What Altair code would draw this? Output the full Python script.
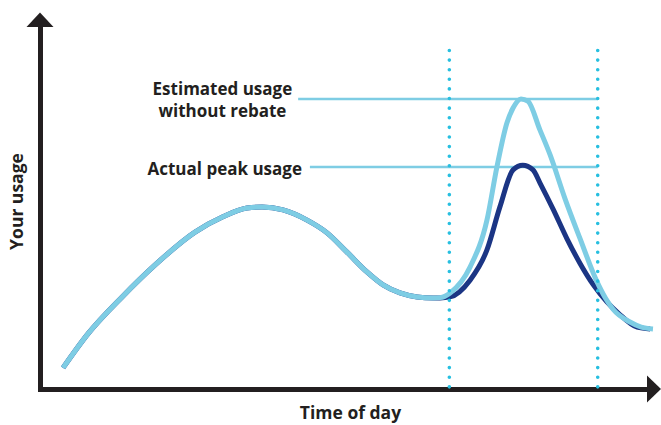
import altair as alt
import pandas as pd

# ---- data (time of day in hours, usage in arbitrary units 0-100) ----
shared_t = [0.90, 1.88, 3.21, 4.50, 6.06, 7.15, 8.09, 8.68, 9.50, 10.44, 11.22,
            12.00, 12.79, 13.41, 14.07, 14.74, 15.36]
shared_u = [5.8, 15.2, 25.3, 34.1, 43.1, 47.3, 49.7, 50.0, 49.2, 46.4, 42.9,
            37.6, 32.1, 28.6, 26.4, 25.3, 25.0]

est_t = [15.64, 16.03, 16.81, 17.47, 17.86, 18.25, 18.49, 18.80, 19.07, 19.54,
         19.94, 20.52, 21.11, 21.77, 22.10, 22.40, 23.06, 23.50, 23.96]
est_u = [25.1, 26.4, 33.5, 46.4, 61.0, 73.1, 77.2, 79.7, 79.1, 71.2,
         64.3, 52.3, 41.3, 29.5, 25.0, 21.9, 18.4, 17.0, 16.5]

act_t = [15.64, 16.03, 16.81, 17.47, 17.98, 18.49, 18.87, 19.27, 19.55, 20.07,
         20.59, 21.11, 21.63, 22.15, 22.61, 23.34, 23.85]
act_u = [25.0, 25.3, 29.9, 38.2, 50.1, 60.2, 61.5, 60.2, 56.5, 49.2,
         41.4, 34.5, 28.6, 24.0, 20.8, 17.0, 16.5]

window_t = [16.0, 21.8]          # rebate period boundaries
window_top = 93.0

ref_labels = ["Estimated usage", "Actual peak usage"]
ref_level = [79.7, 61.0]
ref_start = [10.09, 10.55]

label_lines = ["Estimated usage", "without rebate", "Actual peak usage"]
label_t = [7.13, 7.13, 10.24]
label_u = [80.8, 74.6, 58.8]
label_align = ["center", "center", "right"]

# ---- colours ----
INK = "#231f20"
LIGHT = "#7ecde4"
DARK = "#1b3584"
CYAN = "#27bfe0"
FONT = "Open Sans"

est_df = pd.DataFrame({"x": shared_t + est_t, "y": shared_u + est_u})
act_df = pd.DataFrame({"x": shared_t + act_t, "y": shared_u + act_u})
win_df = pd.DataFrame({"x": window_t, "y": [window_top] * 2, "y2": [0, 0]})
ref_df = pd.DataFrame({"x": ref_start, "x2": [window_t[1]] * 2, "y": ref_level, "name": ref_labels})
lab_df = pd.DataFrame({"x": label_t, "y": label_u, "text": label_lines, "align": label_align})
yarrow_df = pd.DataFrame({"x": [0], "y": [100]})
xarrow_df = pd.DataFrame({"x": [24], "y": [0]})

xs = alt.Scale(domain=[0, 24], nice=False, zero=False)
ys = alt.Scale(domain=[0, 100], nice=False, zero=False)

x_axis = alt.Axis(title="Time of day", domain=True, domainColor=INK, domainWidth=5,
                  domainCap="square", ticks=False, labels=False, grid=False,
                  titleFont=FONT, titleFontWeight="bold", titleFontSize=17.5,
                  titleColor=INK, titleX=310, titleY=24, titleBaseline="middle",
                  titleAlign="center")
y_axis = alt.Axis(title="Your usage", domain=True, domainColor=INK, domainWidth=5,
                  domainCap="square", ticks=False, labels=False, grid=False,
                  titleFont=FONT, titleFontWeight="bold", titleFontSize=17.5,
                  titleColor=INK, titleX=-23, titleY=176, titleBaseline="middle",
                  titleAlign="center", titleAngle=270)

X = alt.X("x:Q", scale=xs, axis=x_axis)
Y = alt.Y("y:Q", scale=ys, axis=y_axis)

refs = alt.Chart(ref_df).mark_rule(color=LIGHT, strokeWidth=2.5).encode(
    x=X, x2="x2:Q", y=Y)

actual = alt.Chart(act_df).mark_line(color=DARK, strokeWidth=5, interpolate="monotone").encode(
    x=X, y=Y, order="x:Q")
estimated = alt.Chart(est_df).mark_line(color=LIGHT, strokeWidth=5, interpolate="monotone").encode(
    x=X, y=Y, order="x:Q")

dots = alt.Chart(win_df).mark_rule(color=CYAN, strokeWidth=3.6, strokeDash=[0.01, 9.6],
                                   strokeCap="round").encode(x=X, y=Y, y2="y2:Q")

labels_c = alt.Chart(lab_df[lab_df["align"] == "center"]).mark_text(
    font=FONT, fontWeight="bold", fontSize=17, color=INK, align="center",
    baseline="alphabetic").encode(x=X, y=Y, text="text:N")
labels_r = alt.Chart(lab_df[lab_df["align"] == "right"]).mark_text(
    font=FONT, fontWeight="bold", fontSize=17, color=INK, align="right",
    baseline="alphabetic").encode(x=X, y=Y, text="text:N")

yarrow = alt.Chart(yarrow_df).mark_point(shape="M0,-0.93L1,0.15L-1,0.15Z", size=729,
                                         filled=True, color=INK, opacity=1,
                                         strokeWidth=0).encode(x=X, y=Y)
xarrow = alt.Chart(xarrow_df).mark_point(shape="M0.52,0L-0.52,1L-0.52,-1Z", size=729,
                                         filled=True, color=INK, opacity=1,
                                         strokeWidth=0).encode(x=X, y=Y)

chart = alt.layer(refs, actual, estimated, dots, labels_c, labels_r, yarrow, xarrow).properties(
    width=614, height=364,
    padding={"left": 40, "top": 25, "right": 7, "bottom": 36},
    autosize="none",
    background="white",
).configure_view(strokeWidth=0)

chart.save("out.html", embed_options={"renderer": "svg", "actions": False})
